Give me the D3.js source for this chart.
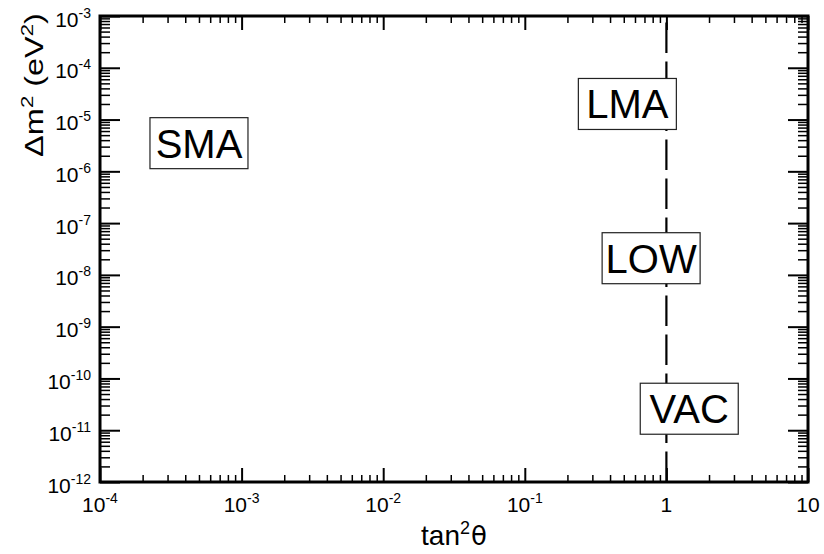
<!DOCTYPE html>
<html>
<head>
<meta charset="utf-8">
<script src="https://cdn.jsdelivr.net/npm/d3@7"></script>
<style>
  html, body { margin: 0; padding: 0; background: #fff; }
  svg { display: block; font-family: "Liberation Sans", Arial, Helvetica, sans-serif; }
</style>
</head>
<body>
<svg id="chart" width="824" height="554"></svg>
<script>
// Axis ranges (log scales)
const xDomain = [1e-4, 10];
const yDomain = [1e-12, 1e-3];

// Major tick values and their labels (base + superscript exponent)
const xMajor = [1e-4, 1e-3, 1e-2, 1e-1, 1, 10];
const xTickBase = ["10", "10", "10", "10", "1", "10"];
const xTickSup = ["-4", "-3", "-2", "-1", "", ""];

const yMajor = [1e-12, 1e-11, 1e-10, 1e-9, 1e-8, 1e-7, 1e-6, 1e-5, 1e-4, 1e-3];
const yTickBase = ["10", "10", "10", "10", "10", "10", "10", "10", "10", "10"];
const yTickSup = ["-12", "-11", "-10", "-9", "-8", "-7", "-6", "-5", "-4", "-3"];

// Solution-region labels placed at (tan^2 theta, delta m^2)
const regionNames = ["SMA", "LMA", "LOW", "VAC"];
const regionTan2 = [5e-4, 0.53, 0.78, 1.45];
const regionDm2 = [3.5e-6, 2.0e-5, 2.1e-8, 2.6e-11];

// Maximal mixing reference line
const maxMixing = 1;

const svg = d3.select("#chart");
const plotL = 100, plotR = 808, plotT = 16, plotB = 482;

const x = d3.scaleLog().domain(xDomain).range([plotL, plotR]);
const y = d3.scaleLog().domain(yDomain).range([plotB, plotT]);

const isPow10 = v => Math.abs(Math.log10(v) - Math.round(Math.log10(v))) < 1e-9;
const xMinor = x.ticks().filter(v => !isPow10(v));
const yMinor = y.ticks().filter(v => !isPow10(v));

function tickGroup(axis, tr, width) {
  const g = svg.append("g").attr("transform", tr).call(axis);
  g.select(".domain").remove();
  g.selectAll(".tick line").attr("stroke", "#000").attr("stroke-width", width);
  g.selectAll(".tick text").remove();
  return g;
}

// Inward ticks on all four sides
tickGroup(d3.axisBottom(x).tickValues(xMinor).tickSize(-7).tickFormat(""), `translate(0,${plotB})`, 1.5);
tickGroup(d3.axisBottom(x).tickValues(xMajor).tickSize(-14).tickFormat(""), `translate(0,${plotB})`, 2);
tickGroup(d3.axisTop(x).tickValues(xMinor).tickSize(-7).tickFormat(""), `translate(0,${plotT})`, 1.5);
tickGroup(d3.axisTop(x).tickValues(xMajor).tickSize(-14).tickFormat(""), `translate(0,${plotT})`, 2);
tickGroup(d3.axisLeft(y).tickValues(yMinor).tickSize(-10).tickFormat(""), `translate(${plotL},0)`, 1.5);
tickGroup(d3.axisLeft(y).tickValues(yMajor).tickSize(-20).tickFormat(""), `translate(${plotL},0)`, 2);
tickGroup(d3.axisRight(y).tickValues(yMinor).tickSize(-10).tickFormat(""), `translate(${plotR},0)`, 1.5);
tickGroup(d3.axisRight(y).tickValues(yMajor).tickSize(-20).tickFormat(""), `translate(${plotR},0)`, 2);

// Dashed vertical line at tan^2 theta = 1, drawn from bottom upward
svg.append("line")
  .attr("x1", x(maxMixing)).attr("x2", x(maxMixing))
  .attr("y1", y(yDomain[0])).attr("y2", y(yDomain[1]))
  .attr("stroke", "#000").attr("stroke-width", 2.2)
  .attr("stroke-dasharray", "30.5,8.5");

// Frame
svg.append("rect")
  .attr("x", plotL).attr("y", plotT)
  .attr("width", plotR - plotL).attr("height", plotB - plotT)
  .attr("fill", "none").attr("stroke", "#000").attr("stroke-width", 3);

// X tick labels
xMajor.forEach((v, i) => {
  const t = svg.append("text")
    .attr("x", x(v)).attr("y", plotB + 29.7)
    .attr("text-anchor", "middle").attr("font-size", 21).attr("fill", "#000");
  t.append("tspan").text(xTickBase[i]);
  if (xTickSup[i]) t.append("tspan").attr("dy", -8.5).attr("font-size", 14).text(xTickSup[i]);
});

// Y tick labels
yMajor.forEach((v, i) => {
  const t = svg.append("text")
    .attr("x", 91).attr("y", y(v) + 10.5)
    .attr("text-anchor", "end").attr("font-size", 21).attr("fill", "#000");
  t.append("tspan").text(yTickBase[i]);
  if (yTickSup[i]) t.append("tspan").attr("dy", -9).attr("font-size", 14).text(yTickSup[i]);
});

// Axis titles
const xt = svg.append("text")
  .attr("x", (plotL + plotR) / 2).attr("y", 545)
  .attr("text-anchor", "middle").attr("font-size", 28).attr("fill", "#000");
xt.append("tspan").text("tan");
xt.append("tspan").attr("dy", -11).attr("font-size", 18).text("2");
xt.append("tspan").attr("dy", 11).attr("dx", 1)
  .attr("font-family", "'DejaVu Sans', sans-serif").attr("font-size", 26).text("θ");

const yt = svg.append("text")
  .attr("transform", "translate(43,85) rotate(-90) scale(1.3,1)")
  .attr("text-anchor", "middle").attr("font-size", 25).attr("fill", "#000");
yt.append("tspan").text("Δm");
yt.append("tspan").attr("dy", -10).attr("font-size", 17).text("2");
yt.append("tspan").attr("dy", 10).text(" (eV");
yt.append("tspan").attr("dy", -10).attr("font-size", 17).text("2");
yt.append("tspan").attr("dy", 10).text(")");

// Boxed region labels
const boxW = 98, boxH = 51;
const regions = svg.append("g");
regionNames.forEach((name, i) => {
  const cx = x(regionTan2[i]), cy = y(regionDm2[i]);
  regions.append("rect")
    .attr("x", cx - boxW / 2).attr("y", cy - boxH / 2)
    .attr("width", boxW).attr("height", boxH)
    .attr("fill", "#fff").attr("stroke", "#222").attr("stroke-width", 1.2);
  regions.append("text")
    .attr("x", cx).attr("y", cy + 14.5)
    .attr("text-anchor", "middle").attr("font-size", 40).attr("fill", "#000")
    .text(name);
});
</script>
</body>
</html>
